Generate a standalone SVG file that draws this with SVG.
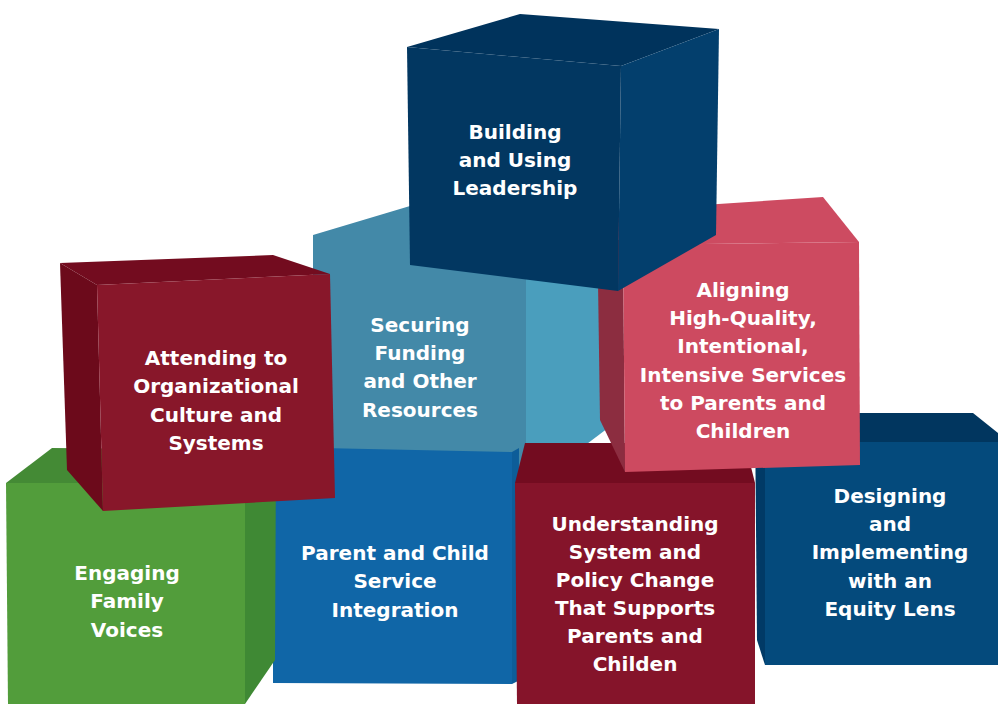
<svg xmlns="http://www.w3.org/2000/svg" width="998" height="704" viewBox="0 0 998 704">
<style>
text{font-family:"DejaVu Sans","Liberation Sans",sans-serif;font-weight:bold;font-size:20px;fill:#ffffff;text-anchor:middle}
</style>
<rect width="998" height="704" fill="#ffffff"/>
<g id="connectors"/>
<g id="securing">
<polygon points="313,235 410,206 526,215 526,490 335,454 313,450" fill="#4389a8"/>
<polygon points="526,215 612,215 608,428 526,490" fill="#4a9ebd"/>
<text x="420" y="332">Securing</text>
<text x="420" y="360">Funding</text>
<text x="420" y="388">and Other</text>
<text x="420" y="417">Resources</text>
</g>
<g id="parent-child">
<polygon points="273,447 512,452 512,684 273,683" fill="#1066a7"/>
<polygon points="512,452 519,448 518,681 512,684" fill="#0d5d99"/>
<text x="395" y="560">Parent and Child</text>
<text x="395" y="588">Service</text>
<text x="395" y="617">Integration</text>
</g>
<g id="engaging">
<polygon points="6,483 52,448 276,450 245,483" fill="#448a35"/>
<polygon points="245,483 276,450 275,660 245,704" fill="#3f8934"/>
<polygon points="6,483 245,483 245,704 8,704" fill="#529d3b"/>
<text x="127" y="580">Engaging</text>
<text x="127" y="608">Family</text>
<text x="127" y="637">Voices</text>
</g>
<g id="understanding">
<polygon points="515,483 525,443 745,443 755,483" fill="#730c20"/>
<polygon points="515,483 755,483 755,704 517,704" fill="#85142a"/>
<text x="635" y="531">Understanding</text>
<text x="635" y="559">System and</text>
<text x="635" y="587">Policy Change</text>
<text x="635" y="615">That Supports</text>
<text x="635" y="643">Parents and</text>
<text x="635" y="671">Childen</text>
</g>
<g id="designing">
<polygon points="755,413 973,413 998,433 998,442 765,442" fill="#01365f"/>
<polygon points="755,413 765,442 765,665 757,640" fill="#013a66"/>
<polygon points="765,442 998,442 998,665 765,665" fill="#044a7c"/>
<text x="890" y="503">Designing</text>
<text x="890" y="531">and</text>
<text x="890" y="559">Implementing</text>
<text x="890" y="588">with an</text>
<text x="890" y="616">Equity Lens</text>
</g>
<g id="attending">
<polygon points="60,263 273,255 330,274 97,285" fill="#730c1f"/>
<polygon points="60,263 97,285 103,511 67,470" fill="#6c0a1b"/>
<polygon points="97,285 330,274 335,498 103,511" fill="#88172a"/>
<text x="216" y="365">Attending to</text>
<text x="216" y="393">Organizational</text>
<text x="216" y="422">Culture and</text>
<text x="216" y="450">Systems</text>
</g>
<g id="aligning">
<polygon points="597,212 823,197 859,242 623,245" fill="#cd4b61"/>
<polygon points="597,212 623,245 625,472 600,420" fill="#8c2d40"/>
<polygon points="623,245 859,242 860,465 625,472" fill="#cd4a60"/>
<text x="743" y="297">Aligning</text>
<text x="743" y="325">High-Quality,</text>
<text x="743" y="353">Intentional,</text>
<text x="743" y="382">Intensive Services</text>
<text x="743" y="410">to Parents and</text>
<text x="743" y="438">Children</text>
</g>
<g id="building">
<polygon points="407,47 520,14 719,29 621,66" fill="#00335c"/>
<polygon points="621,66 719,29 716,235 618,291" fill="#033f6d"/>
<polygon points="407,47 621,66 618,291 410,265" fill="#023761"/>
<text x="515" y="139">Building</text>
<text x="515" y="167">and Using</text>
<text x="515" y="195">Leadership</text>
</g>
</svg>
